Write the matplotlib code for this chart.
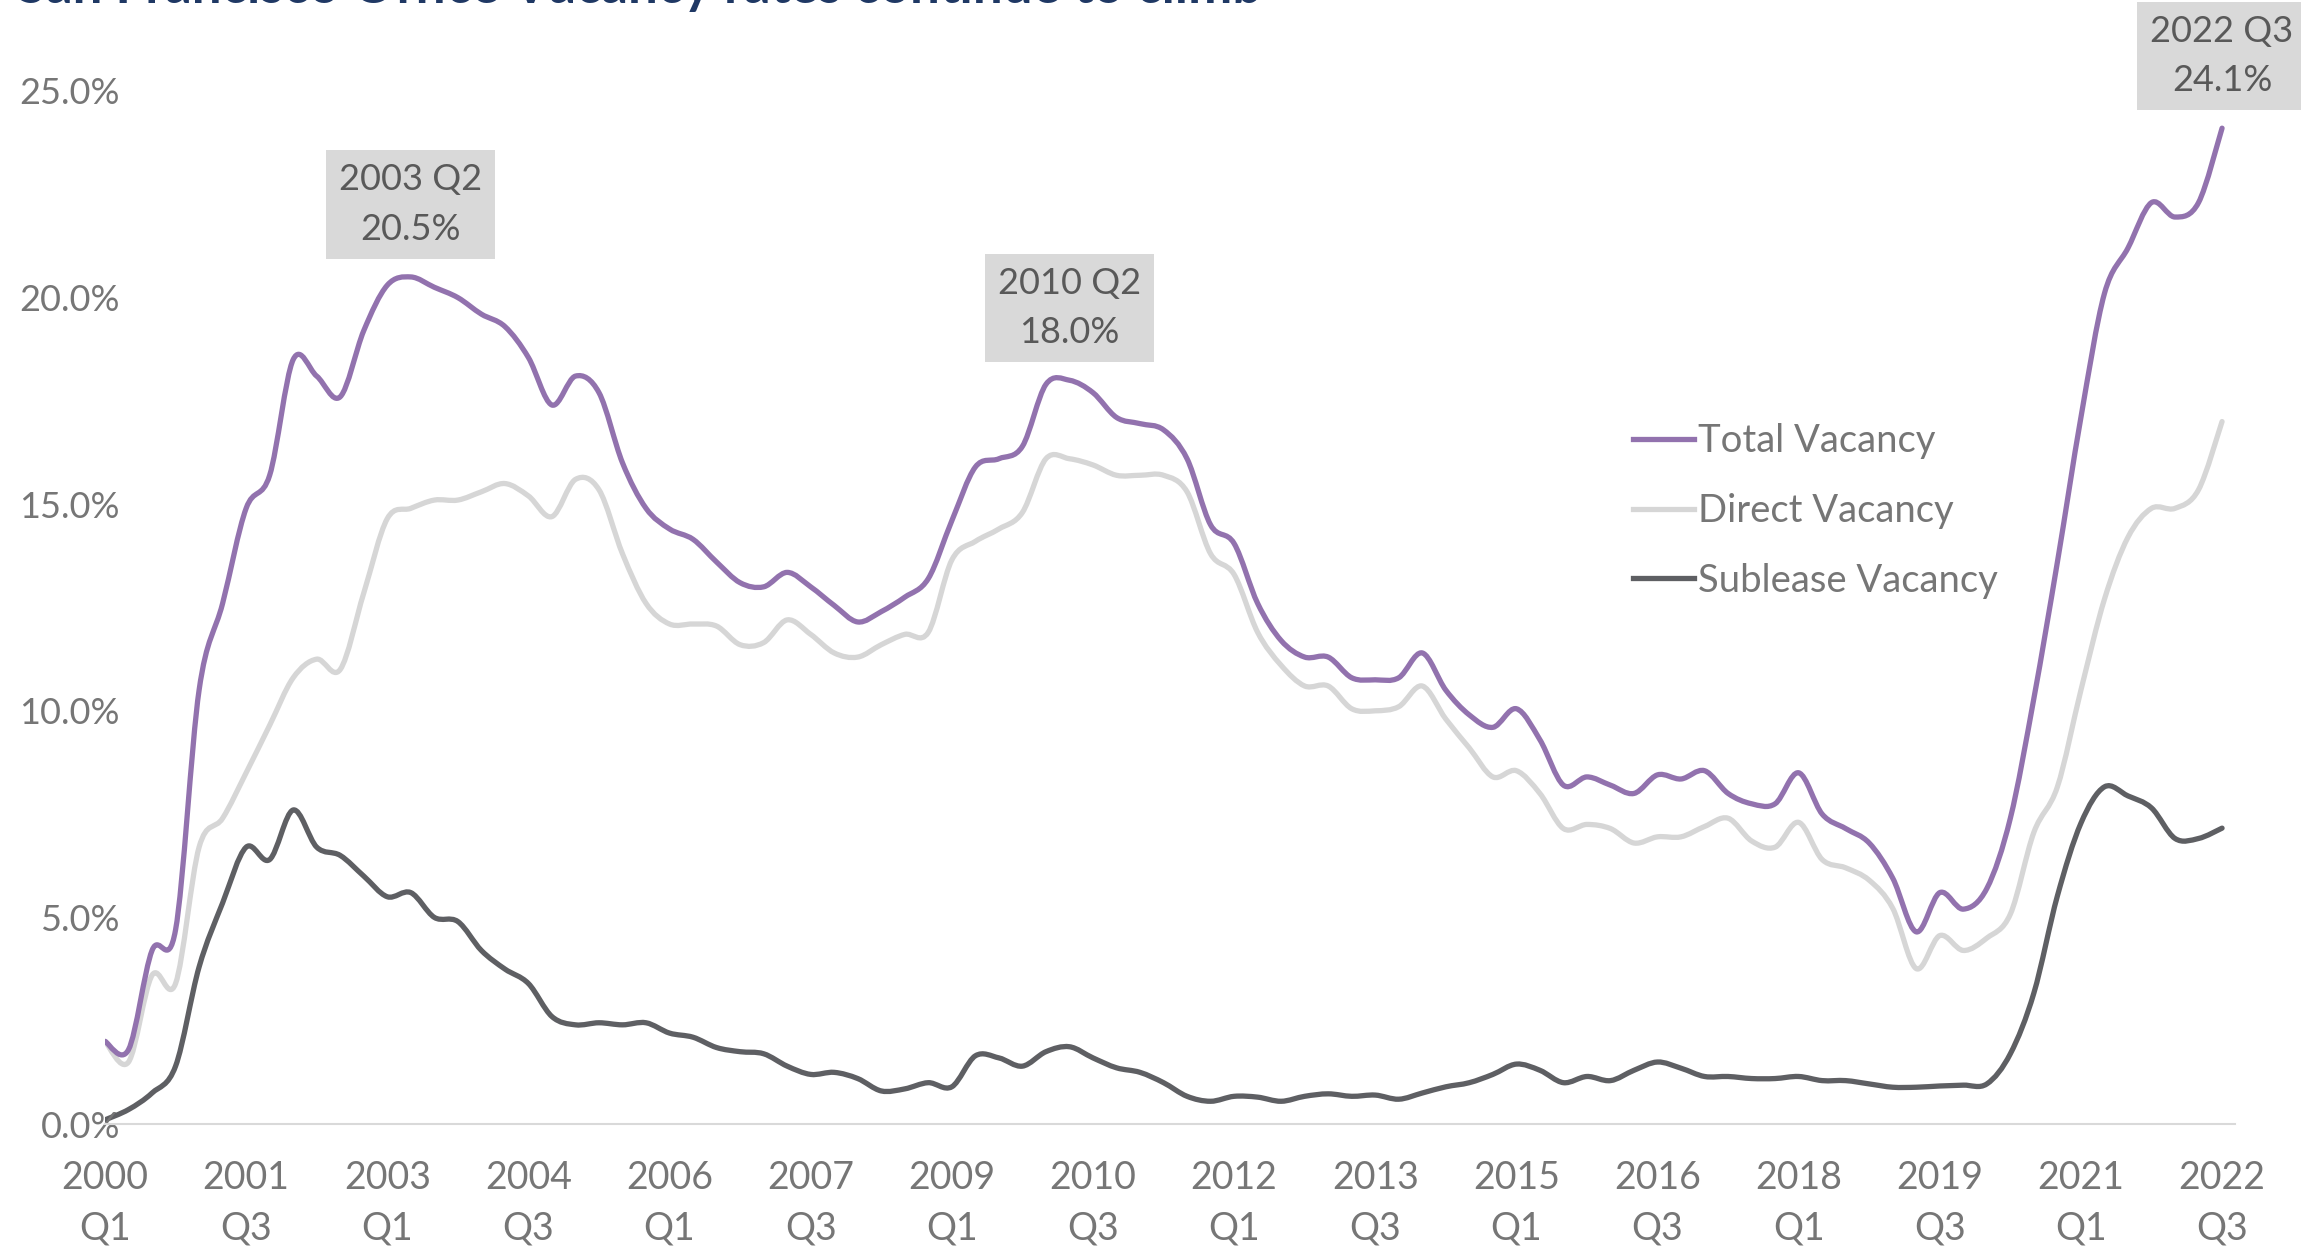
import matplotlib
matplotlib.use("Agg")
import matplotlib.pyplot as plt
from matplotlib.path import Path
from matplotlib.patches import PathPatch
from matplotlib.lines import Line2D
import numpy as np

plt.rcParams['font.family'] = ['Lato', 'DejaVu Sans']

# quarterly vacancy rates (%), 2000 Q1 .. 2022 Q3
total = [2.0, 1.8, 4.2, 4.7, 10.5, 12.6, 14.9, 15.7, 18.5, 18.1,
         17.6, 19.2, 20.3, 20.5, 20.25, 20.0, 19.6, 19.3, 18.55, 17.4,
         18.1, 17.7, 16.0, 14.9, 14.4, 14.15, 13.6, 13.1, 13.0, 13.35,
         13.0, 12.55, 12.15, 12.4, 12.75, 13.2, 14.6, 15.9, 16.1, 16.4,
         17.9, 18.0, 17.7, 17.1, 16.95, 16.8, 16.1, 14.5, 14.05, 12.6,
         11.7, 11.3, 11.3, 10.8, 10.75, 10.8, 11.4, 10.5, 9.9, 9.6,
         10.05, 9.3, 8.2, 8.4, 8.2, 8.0, 8.45, 8.35, 8.55, 8.0,
         7.75, 7.75, 8.5, 7.5, 7.15, 6.8, 5.95, 4.65, 5.6, 5.2,
         5.7, 7.4, 10.3, 13.6, 17.1, 20.1, 21.2, 22.3, 21.95, 22.3,
         24.1]
direct = [2.0, 1.5, 3.6, 3.4, 6.7, 7.4, 8.5, 9.65, 10.8, 11.25,
          11.0, 12.85, 14.65, 14.9, 15.1, 15.1, 15.3, 15.5, 15.2, 14.7,
          15.6, 15.35, 13.8, 12.6, 12.1, 12.1, 12.05, 11.6, 11.65, 12.2,
          11.85, 11.4, 11.3, 11.6, 11.85, 11.9, 13.65, 14.1, 14.4, 14.8,
          16.1, 16.1, 15.95, 15.7, 15.7, 15.7, 15.3, 13.8, 13.3, 11.9,
          11.1, 10.6, 10.6, 10.05, 10.0, 10.1, 10.6, 9.8, 9.1, 8.4,
          8.55, 8.0, 7.15, 7.25, 7.15, 6.8, 6.95, 6.95, 7.2, 7.4,
          6.85, 6.7, 7.3, 6.4, 6.2, 5.9, 5.22, 3.76, 4.56, 4.2,
          4.5, 5.08, 7.06, 8.16, 10.5, 12.7, 14.2, 14.9, 14.9, 15.35,
          17.0]
sublease = [0.1, 0.35, 0.75, 1.4, 3.8, 5.35, 6.7, 6.4, 7.6, 6.7,
            6.5, 6.0, 5.5, 5.6, 5.0, 4.9, 4.2, 3.75, 3.4, 2.6,
            2.4, 2.45, 2.4, 2.45, 2.2, 2.1, 1.85, 1.75, 1.7, 1.4,
            1.2, 1.25, 1.1, 0.8, 0.85, 1.0, 0.9, 1.65, 1.6, 1.4,
            1.75, 1.87, 1.6, 1.36, 1.25, 1.0, 0.67, 0.55, 0.67, 0.65,
            0.55, 0.67, 0.73, 0.67, 0.7, 0.6, 0.75, 0.9, 1.0, 1.2,
            1.45, 1.3, 1.0, 1.15, 1.05, 1.3, 1.5, 1.35, 1.15, 1.15,
            1.1, 1.1, 1.15, 1.05, 1.05, 0.97, 0.89, 0.89, 0.92, 0.94,
            0.97, 1.7, 3.17, 5.52, 7.28, 8.16, 7.94, 7.65, 6.91, 6.91,
            7.16]

quarters = [f"{2000 + i // 4} Q{i % 4 + 1}" for i in range(len(total))]
callouts = [13, 41, 90]  # peaks that get a label box

GREY_TXT = '#767676'


def smooth_line(ax, xs, ys, color, lw):
    # excel style "smoothed line": bezier segments through every point
    p = np.column_stack([xs, ys]).astype(float)
    pts = np.vstack([p[0], p, p[-1]])
    verts = [p[0]]
    codes = [Path.MOVETO]
    for k in range(1, len(pts) - 2):
        c1 = pts[k] + (pts[k + 1] - pts[k - 1]) / 6
        c2 = pts[k + 1] - (pts[k + 2] - pts[k]) / 6
        verts += [c1, c2, pts[k + 1]]
        codes += [Path.CURVE4] * 3
    patch = PathPatch(Path(verts, codes), fill=False, edgecolor=color, lw=lw,
                      capstyle='round', joinstyle='round')
    ax.add_patch(patch)
    return Line2D([], [], color=color, lw=lw)


fig = plt.figure(figsize=(23.01, 12.51), dpi=100)
ax = fig.add_axes([105 / 2301, 127 / 1251, 2130 / 2301, 1033 / 1251])
x = np.arange(len(total))

h2 = smooth_line(ax, x, direct, '#D6D6D6', 3.8)
h3 = smooth_line(ax, x, sublease, '#5E5F63', 3.8)
h1 = smooth_line(ax, x, total, '#9272AE', 3.8)

ax.set_xlim(0, 90.55)
ax.set_ylim(0, 25)

for s in ['top', 'right', 'left']:
    ax.spines[s].set_visible(False)
ax.spines['bottom'].set_color('#D9D9D9')
ax.spines['bottom'].set_linewidth(1.5)

ax.set_yticks(np.arange(0, 26, 5))
ax.set_yticklabels([f"{v:.1f}%" for v in np.arange(0, 26, 5)])
ax.tick_params(axis='y', length=0, pad=-10.8, labelsize=26, labelcolor=GREY_TXT)

ticks = list(range(0, len(total), 6))
ax.set_xticks(ticks)
ax.set_xticklabels([quarters[i].replace(' ', '\n') for i in ticks], linespacing=1.5)
ax.tick_params(axis='x', length=0, pad=26, labelsize=27, labelcolor=GREY_TXT)

for i in callouts:
    ax.annotate(f"{quarters[i]}\n{total[i]:.1f}%", xy=(i, total[i]), xytext=(0, 52),
                textcoords='offset points', ha='center', va='center',
                fontsize=26, color='#595959', linespacing=1.62,
                bbox=dict(boxstyle='square,pad=0.36', fc='#D9D9D9', ec='none'),
                annotation_clip=False)

leg = ax.legend(handles=[h1, h2, h3],
                labels=['Total Vacancy', 'Direct Vacancy', 'Sublease Vacancy'],
                loc='center left',
                bbox_to_anchor=(1633 / 2301, 1 - 511 / 1251), bbox_transform=fig.transFigure,
                frameon=False, fontsize=27.5, handlelength=1.6, handletextpad=0.1,
                labelspacing=0.88, borderpad=0, borderaxespad=0)
for t in leg.get_texts():
    t.set_color(GREY_TXT)

fig.text(17 / 2301, 1 - 3 / 1251, "San Francisco Office Vacancy rates continue to climb",
         fontsize=38, fontweight='bold', color='#1F3864', va='baseline')

fig.savefig('out.png', dpi=100, facecolor='white')
